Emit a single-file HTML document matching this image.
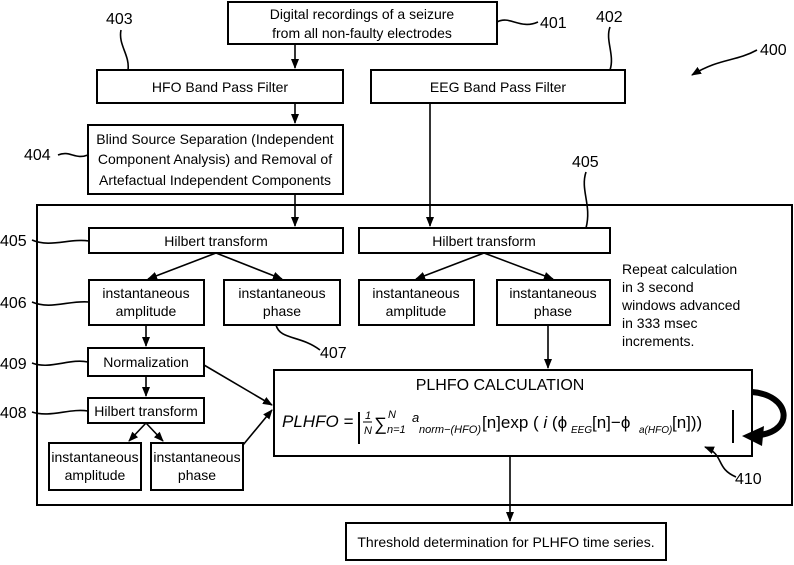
<!DOCTYPE html>
<html><head><style>
html,body{margin:0;padding:0;background:#fff;}
svg{display:block;}
text{font-family:"Liberation Sans Narrow","Liberation Sans",sans-serif;font-size:14px;fill:#000;}
.c{text-anchor:middle;}
.b{fill:#fff;stroke:#000;stroke-width:2;}
.l{stroke:#000;stroke-width:1.6;fill:none;}
</style></head><body>
<svg width="794" height="565" viewBox="0 0 794 565" xmlns="http://www.w3.org/2000/svg">
<defs><marker id="a" markerWidth="10" markerHeight="10" refX="9" refY="5" orient="auto" markerUnits="userSpaceOnUse"><path d="M0,1 L10,5 L0,9 z" fill="#000"/></marker></defs>
<rect x="37" y="205" width="755" height="300" fill="none" stroke="#000" stroke-width="2"/>
<rect class="b" x="228" y="2" width="269" height="42"/>
<text class="c" x="362" y="19">Digital recordings of a seizure</text>
<text class="c" x="362" y="38">from all non-faulty electrodes</text>
<rect class="b" x="97" y="70" width="246" height="33"/>
<text class="c" x="220" y="92">HFO Band Pass Filter</text>
<rect class="b" x="371" y="70" width="254" height="33"/>
<text class="c" x="498" y="92">EEG Band Pass Filter</text>
<rect class="b" x="88" y="125" width="255" height="69"/>
<text class="c" x="215" y="144">Blind Source Separation (Independent</text>
<text class="c" x="215" y="164">Component Analysis) and Removal of</text>
<text class="c" x="215" y="185">Artefactual Independent Components</text>
<path class="l" d="M295,44 V68" marker-end="url(#a)"/>
<path class="l" d="M295,103 V123" marker-end="url(#a)"/>
<path class="l" d="M430,103 V226" marker-end="url(#a)"/>
<path class="l" d="M295,194 V226" marker-end="url(#a)"/>
<rect class="b" x="89" y="228" width="254" height="25"/>
<text class="c" x="216" y="246">Hilbert transform</text>
<rect class="b" x="359" y="228" width="251" height="25"/>
<text class="c" x="484" y="246">Hilbert transform</text>
<path class="l" d="M216,253 L148,279" marker-end="url(#a)"/>
<path class="l" d="M216,253 L282,279" marker-end="url(#a)"/>
<path class="l" d="M484,253 L416,279" marker-end="url(#a)"/>
<path class="l" d="M484,253 L553,279" marker-end="url(#a)"/>
<rect class="b" x="89" y="280" width="115" height="45"/>
<text class="c" x="146" y="298">instantaneous</text><text class="c" x="146" y="316">amplitude</text>
<rect class="b" x="224" y="280" width="116" height="45"/>
<text class="c" x="282" y="298">instantaneous</text><text class="c" x="282" y="316">phase</text>
<rect class="b" x="359" y="280" width="115" height="45"/>
<text class="c" x="416" y="298">instantaneous</text><text class="c" x="416" y="316">amplitude</text>
<rect class="b" x="497" y="280" width="113" height="45"/>
<text class="c" x="553" y="298">instantaneous</text><text class="c" x="553" y="316">phase</text>
<path class="l" d="M146,325 V346" marker-end="url(#a)"/>
<rect class="b" x="88" y="348" width="116" height="28"/>
<text class="c" x="146" y="367">Normalization</text>
<path class="l" d="M146,376 V396" marker-end="url(#a)"/>
<rect class="b" x="88" y="398" width="116" height="25"/>
<text class="c" x="146" y="416">Hilbert transform</text>
<path class="l" d="M146,423 L129,441" marker-end="url(#a)"/>
<path class="l" d="M146,423 L163,441" marker-end="url(#a)"/>
<rect class="b" x="49" y="443" width="92" height="47"/>
<text class="c" x="95" y="462">instantaneous</text><text class="c" x="95" y="480">amplitude</text>
<rect class="b" x="151" y="443" width="92" height="47"/>
<text class="c" x="197" y="462">instantaneous</text><text class="c" x="197" y="480">phase</text>
<path class="l" d="M204,365 L272,405" marker-end="url(#a)"/>
<path class="l" d="M243,445 L272,410" marker-end="url(#a)"/>
<path class="l" d="M548,325 V368" marker-end="url(#a)"/>
<rect class="b" x="274" y="370" width="478" height="86"/>
<text class="c" x="500" y="390" style="font-size:16px">PLHFO  CALCULATION</text>
<text x="282" y="427" style="font-size:17px;font-style:italic">PLHFO =</text>
<path d="M359,412 V444" stroke="#000" stroke-width="2"/>
<text x="365" y="419" style="font-size:11px;font-style:italic">1</text>
<path d="M363,422 H372" stroke="#000"/>
<text x="364" y="434" style="font-size:11px;font-style:italic">N</text>
<text x="374" y="430" style="font-size:18px">∑</text>
<text x="388" y="418" style="font-size:11px;font-style:italic">N</text>
<text x="387" y="433" style="font-size:11px;font-style:italic">n=1</text>
<text x="412" y="422" style="font-size:13px;font-style:italic">a</text>
<text x="419" y="433" style="font-size:11px;font-style:italic">norm−(HFO)</text>
<text x="482" y="428" style="font-size:17px">[n]exp ( <tspan font-style="italic">i</tspan> (ϕ</text>
<text x="571" y="433" style="font-size:10px;font-style:italic">EEG</text>
<text x="592" y="428" style="font-size:17px">[n]−ϕ</text>
<text x="639" y="433" style="font-size:10px;font-style:italic">a(HFO)</text>
<text x="672" y="428" style="font-size:17px">[n]))</text>
<path d="M733,410 V443" stroke="#000" stroke-width="2"/>
<path d="M752,392 C790,395 795,430 760,435" stroke="#000" stroke-width="6" fill="none"/>
<path d="M742,436 L764,426 L762,446 z" fill="#000"/>
<path class="l" d="M510,456 V521" marker-end="url(#a)"/>
<rect class="b" x="346" y="523" width="320" height="37"/>
<text class="c" x="506" y="547">Threshold determination for PLHFO time series.</text>
<text x="622" y="274">Repeat calculation</text>
<text x="622" y="292">in 3 second</text>
<text x="622" y="310">windows advanced</text>
<text x="622" y="328">in 333 msec</text>
<text x="622" y="346">increments.</text>
<text x="106" y="24" style="font-size:16px">403</text>
<path class="l" d="M121,30 C118,45 130,55 128,70"/>
<text x="540" y="28" style="font-size:16px">401</text>
<path class="l" d="M497,22 C510,15 520,30 538,22"/>
<text x="596" y="22" style="font-size:16px">402</text>
<path class="l" d="M610,27 C605,40 615,55 610,70"/>
<text x="760" y="55" style="font-size:16px">400</text>
<path class="l" d="M757,50 C735,62 720,58 692,75" marker-end="url(#a)"/>
<text x="24" y="160" style="font-size:16px">404</text>
<path class="l" d="M58,155 C70,150 75,160 88,155"/>
<text x="0" y="246" style="font-size:16px">405</text>
<path class="l" d="M32,240 C50,248 70,238 89,241"/>
<text x="572" y="167" style="font-size:16px">405</text>
<path class="l" d="M586,172 C580,190 592,205 586,228"/>
<text x="0" y="308" style="font-size:16px">406</text>
<path class="l" d="M32,302 C50,310 70,300 89,302"/>
<text x="0" y="369" style="font-size:16px">409</text>
<path class="l" d="M32,363 C50,370 70,358 88,362"/>
<text x="0" y="418" style="font-size:16px">408</text>
<path class="l" d="M32,412 C50,418 70,408 88,411"/>
<text x="320" y="358" style="font-size:16px">407</text>
<path class="l" d="M276,325 C280,340 300,335 320,350"/>
<text x="735" y="484" style="font-size:16px">410</text>
<path class="l" d="M736,477 C715,468 725,455 705,447" marker-end="url(#a)"/>
</svg>
</body></html>
